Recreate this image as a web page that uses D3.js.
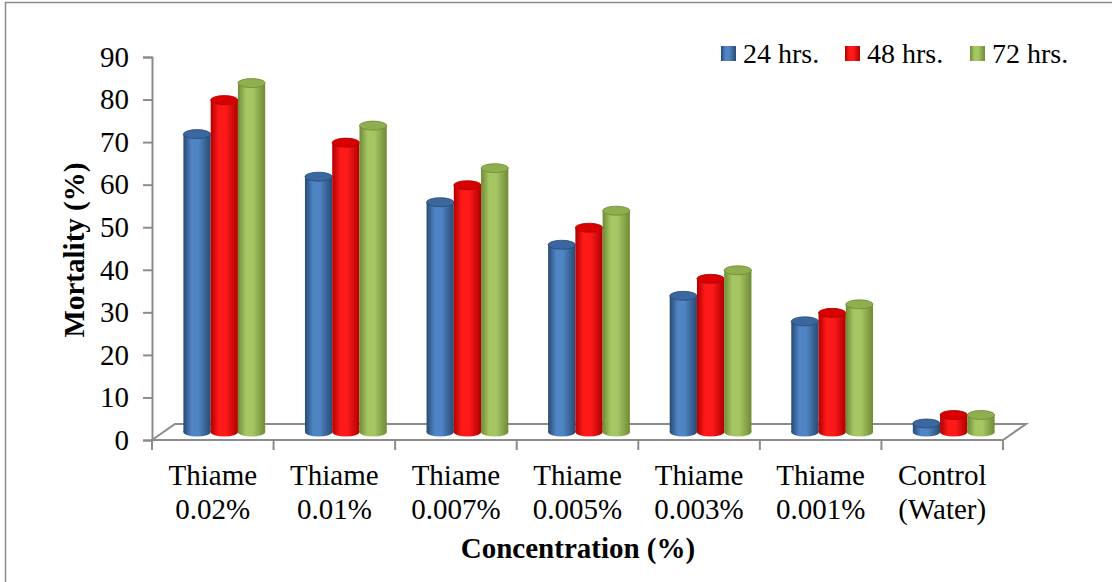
<!DOCTYPE html>
<html>
<head>
<meta charset="utf-8">
<script src="https://cdn.jsdelivr.net/npm/d3@7"></script>
<style>
  body { margin: 0; background: #fff; }
  text { font-family: "Liberation Serif", "Times New Roman", serif; fill: #000; }
</style>
</head>
<body>
<script>
// data
var categories = [["Thiame", "0.02%"], ["Thiame", "0.01%"], ["Thiame", "0.007%"],
                  ["Thiame", "0.005%"], ["Thiame", "0.003%"], ["Thiame", "0.001%"],
                  ["Control", "(Water)"]];
var series = ["24 hrs.", "48 hrs.", "72 hrs."];
var hrs24 = [70, 60, 54, 44, 32, 26, 2];
var hrs48 = [78, 68, 58, 48, 36, 28, 4];
var hrs72 = [82, 72, 62, 52, 38, 30, 4];
var yTicks = [0, 10, 20, 30, 40, 50, 60, 70, 80, 90];

var values = [hrs24, hrs48, hrs72];
var colors = [
  { dark: "#284a73", light: "#4f85c5", top: "#3a679f" },
  { dark: "#b00000", light: "#ff1a1a", top: "#d80000" },
  { dark: "#6f8b35", light: "#a6c664", top: "#8fae50" }
];

var W = 1112, H = 582;
var plotLeft = 152, plotRight = 1003, plotBottom = 440, plotTop = 57;
var dx = 23, dy = -16; // floor depth

var svg = d3.select("body").append("svg")
  .attr("width", W).attr("height", H);

// outer frame (left and top only visible)
svg.append("path")
  .attr("d", "M5.5,582 V2.5 H1112")
  .attr("fill", "none").attr("stroke", "#8c8c8c").attr("stroke-width", 1.5);

var x0 = d3.scaleBand().domain(d3.range(categories.length))
  .range([plotLeft, plotRight]).paddingInner(0).paddingOuter(0);
var x1 = d3.scaleBand().domain(d3.range(series.length))
  .range([0, x0.bandwidth()]).paddingInner(0).paddingOuter(0.73);
var y = d3.scaleLinear().domain([0, 90]).range([plotBottom, plotTop]);

var defs = svg.append("defs");
colors.forEach(function(c, i) {
  var g = defs.append("linearGradient").attr("id", "cyl" + i)
    .attr("x1", "0%").attr("x2", "100%").attr("y1", "0%").attr("y2", "0%");
  g.append("stop").attr("offset", "0%").attr("stop-color", c.dark);
  g.append("stop").attr("offset", "30%").attr("stop-color", c.light);
  g.append("stop").attr("offset", "55%").attr("stop-color", c.light);
  g.append("stop").attr("offset", "100%").attr("stop-color", c.dark);
});

// floor
svg.append("path")
  .attr("d", "M" + plotLeft + "," + plotBottom + " L" + (plotLeft + dx) + "," + (plotBottom + dy) +
       " H" + (plotRight + dx) + " L" + plotRight + "," + plotBottom + " Z")
  .attr("fill", "none").attr("stroke", "#8c8c8c").attr("stroke-width", 2);

// y axis
var yAxis = d3.axisLeft(y).tickValues(yTicks).tickSize(9).tickPadding(14);
var ya = svg.append("g").attr("transform", "translate(" + plotLeft + ",0)").call(yAxis);
ya.select(".domain").attr("stroke", "#8c8c8c").attr("stroke-width", 2);
ya.selectAll(".tick line").attr("stroke", "#8c8c8c").attr("stroke-width", 2);
ya.selectAll(".tick text").attr("font-size", "29px")
  .attr("font-family", "Liberation Serif").attr("fill", "#000");

// x axis ticks at band edges
var xEdges = d3.range(categories.length + 1).map(function(i) {
  return i < categories.length ? x0(i) : plotRight;
});
svg.selectAll(".xtick").data(xEdges).enter().append("line")
  .attr("x1", function(d) { return d; }).attr("x2", function(d) { return d; })
  .attr("y1", plotBottom).attr("y2", plotBottom + 10)
  .attr("stroke", "#8c8c8c").attr("stroke-width", 2);

var xl = svg.selectAll(".xlab").data(categories).enter().append("text")
  .attr("text-anchor", "middle").attr("font-size", "29px")
  .attr("x", function(d, i) { return x0(i) + x0.bandwidth() / 2; });
xl.append("tspan").attr("y", 485).attr("x", function(d, i) { return x0(i) + x0.bandwidth() / 2; })
  .text(function(d) { return d[0]; });
xl.append("tspan").attr("y", 519).attr("x", function(d, i) { return x0(i) + x0.bandwidth() / 2; })
  .text(function(d) { return d[1]; });

// cylinders
var rx = x1.bandwidth() / 2, ry = 4.5;
categories.forEach(function(c, ci) {
  series.forEach(function(s, si) {
    var v = values[si][ci];
    var cx = x0(ci) + x1(si) + rx + dx / 2;
    var base = y(0) + dy / 2, tp = y(v) + dy / 2;
    var g = svg.append("g");
    g.append("ellipse").attr("cx", cx).attr("cy", base).attr("rx", rx).attr("ry", ry)
      .attr("fill", "url(#cyl" + si + ")");
    g.append("rect").attr("x", cx - rx).attr("y", tp).attr("width", rx * 2)
      .attr("height", base - tp).attr("fill", "url(#cyl" + si + ")");
    g.append("ellipse").attr("cx", cx).attr("cy", tp).attr("rx", rx).attr("ry", ry)
      .attr("fill", colors[si].top).attr("stroke", colors[si].dark).attr("stroke-width", 0.8);
  });
});

// legend
var legX = [721, 845, 970];
var leg = svg.selectAll(".leg").data(series).enter().append("g")
  .attr("transform", function(d, i) { return "translate(" + legX[i] + ",46)"; });
leg.append("rect").attr("width", 15).attr("height", 15)
  .attr("fill", function(d, i) { return "url(#cyl" + i + ")"; });
leg.append("text").attr("x", 22).attr("y", 17).attr("font-size", "28px")
  .text(function(d) { return d; });

// axis titles
svg.append("text").attr("transform", "translate(84,250) rotate(-90)")
  .attr("text-anchor", "middle").attr("font-size", "29px").attr("font-weight", "bold")
  .text("Mortality (%)");
svg.append("text").attr("x", 578).attr("y", 558)
  .attr("text-anchor", "middle").attr("font-size", "29px").attr("font-weight", "bold")
  .text("Concentration (%)");
</script>
</body>
</html>
